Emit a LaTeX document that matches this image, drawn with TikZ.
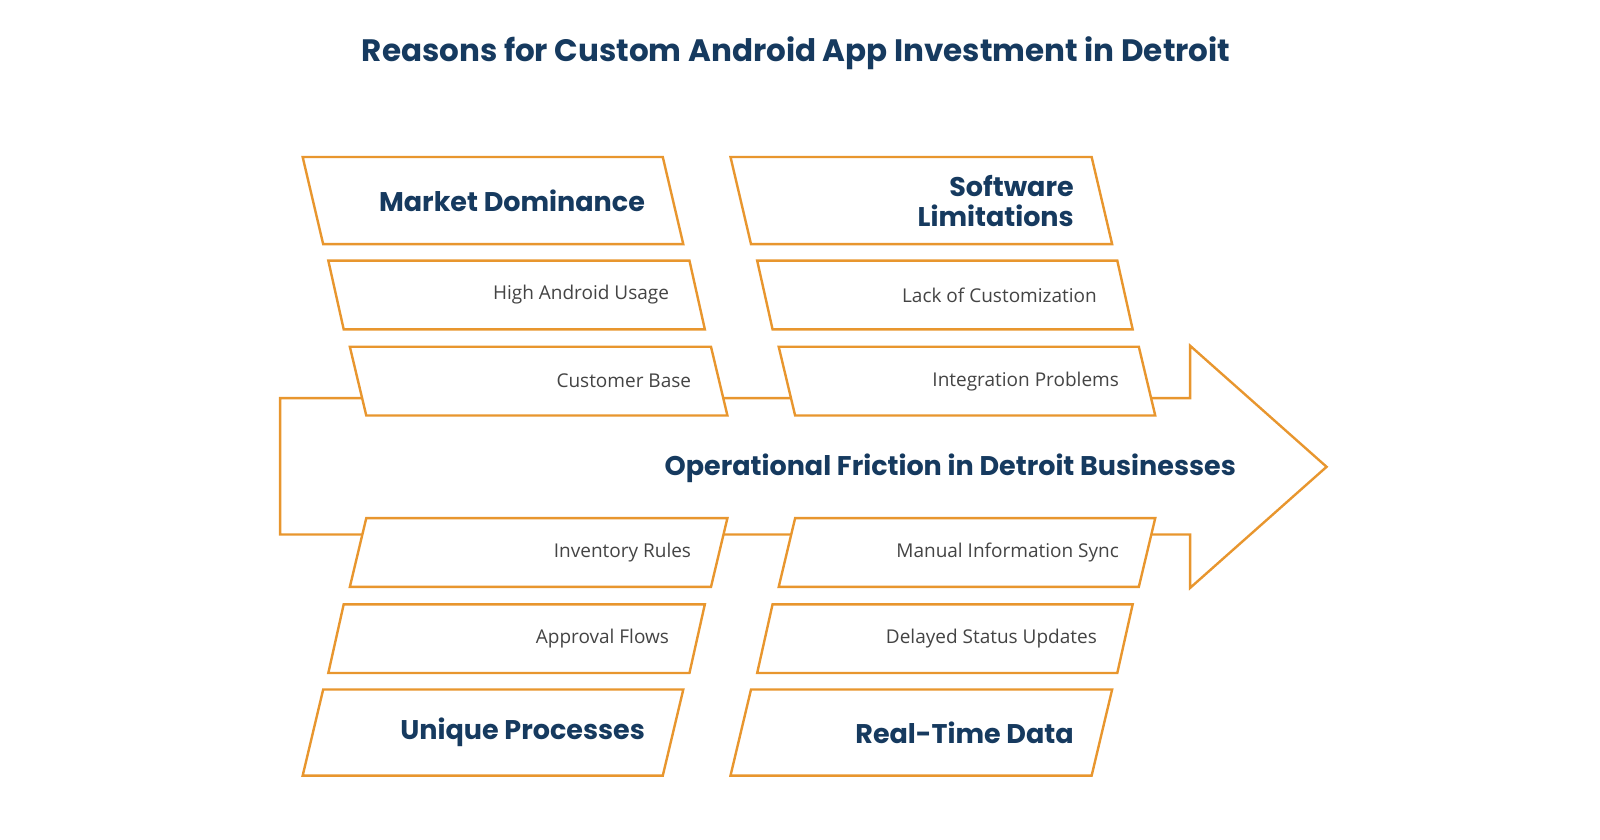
\documentclass[tikz,border=0pt]{standalone}
\usepackage{fontspec}
\setmainfont{Open Sans}
\newfontfamily\headfont{Poppins}
\definecolor{navy}{HTML}{163A5F}
\definecolor{org}{HTML}{E8962E}
\definecolor{txt}{HTML}{444444}
\tikzset{
  edge/.style={draw=org,line width=2.4pt,line join=miter},
  pbox/.style={edge,fill=white},
  head/.style={font=\headfont\bfseries\fontsize{27}{30}\selectfont,text=navy,anchor=east,align=right},
  item/.style={font=\fontsize{19}{22}\selectfont,text=txt,anchor=east},
}
% #1 name, #2 top-left x, #3 ytop, #4 ybot, #5 bottom dx, #6 style, #7 text, #8 width
\newcommand\mybox[8]{%
  \draw[pbox] (#2,#3) -- ++(#8,0) -- (#2+#8+#5,#4) -- (#2+#5,#4) -- cycle;
  \node[#6] (#1) at ({#2+#8+#5/2-24},{(#3+#4)/2}) {#7};
}
\begin{document}
\begin{tikzpicture}[x=1.026pt,y=-1.026pt]
\useasboundingbox (0,0) rectangle (1559.5,818.7);
\node[font=\headfont\bfseries\fontsize{31}{36}\selectfont,text=navy] (title) at (776,52) {Reasons for Custom Android App Investment in Detroit};
\draw[edge] (273,388) -- (1160,388) -- (1160,337) -- (1293,455) -- (1160,573) -- (1160,521) -- (273,521) -- cycle;
\node[head] (spine) at (1208,456) {Operational Friction in Detroit Businesses};
% top left
\mybox{md}{295}{153}{238}{20}{head}{Market Dominance}{351}
\mybox{ha}{320}{254}{321}{15}{item}{High Android Usage}{352}
\mybox{cb}{341}{338}{405}{16}{item}{Customer Base}{352}
% top right
\mybox{sl}{712}{153}{238}{20}{head}{Software\\Limitations}{352}
\mybox{lc}{738}{254}{321}{15}{item}{Lack of Customization}{351}
\mybox{ip}{759}{338}{405}{16}{item}{Integration Problems}{351}
% bottom left
\mybox{ir}{357}{505}{572}{-16}{item}{Inventory Rules}{352}
\mybox{af}{335}{589}{656}{-15}{item}{Approval Flows}{352}
\mybox{up}{315}{672}{756}{-20}{head}{Unique Processes}{351}
% bottom right
\mybox{ms}{775}{505}{572}{-16}{item}{Manual Information Sync}{351}
\mybox{ds}{753}{589}{656}{-15}{item}{Delayed Status Updates}{351}
\mybox{rt}{732}{672}{756}{-20}{head}{Real-Time Data}{352}
\end{tikzpicture}
\end{document}
